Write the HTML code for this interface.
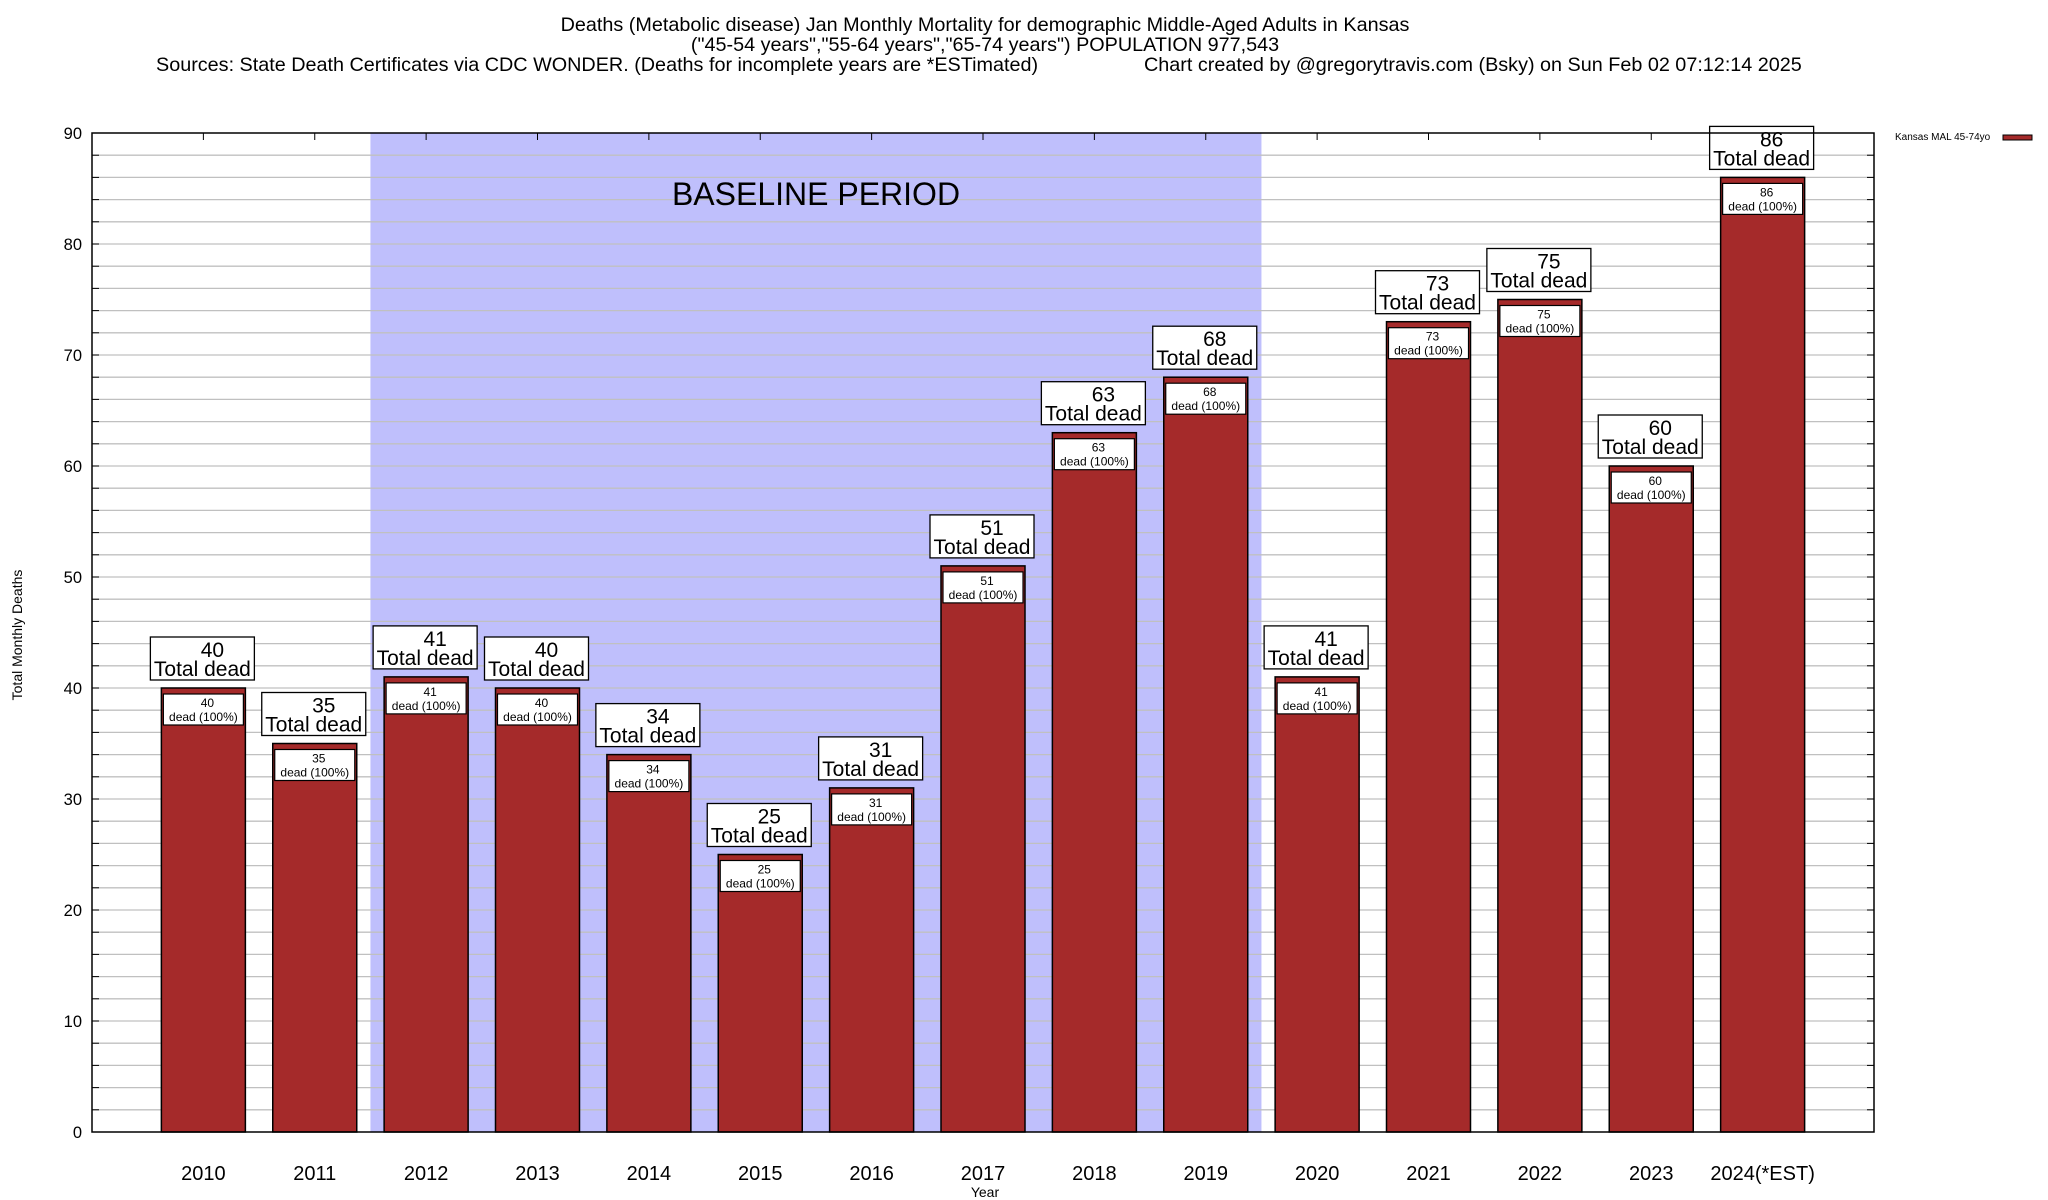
<!DOCTYPE html>
<html><head><meta charset="utf-8"><style>
html,body{margin:0;padding:0;background:#fff}
svg{display:block;font-family:"Liberation Sans",sans-serif}
</style></head><body>
<svg id="chart" width="2048" height="1200" viewBox="0 0 2048 1200" xmlns="http://www.w3.org/2000/svg">
<g font-size="19.8" fill="#000">
<text x="985" y="31" text-anchor="middle">Deaths (Metabolic disease) Jan Monthly Mortality for demographic Middle-Aged Adults in Kansas</text>
<text x="985" y="51" text-anchor="middle">("45-54 years","55-64 years","65-74 years") POPULATION 977,543</text>
<text x="156" y="71">Sources: State Death Certificates via CDC WONDER. (Deaths for incomplete years are *ESTimated)</text>
<text x="1144" y="71">Chart created by @gregorytravis.com (Bsky) on Sun Feb 02 07:12:14 2025</text>
</g>
<g id="plot"></g>
<text transform="translate(22,635) rotate(-90)" text-anchor="middle" font-size="14">Total Monthly Deaths</text>
<text x="985" y="1197" text-anchor="middle" font-size="14">Year</text>
<g>
<text x="1895" y="140" font-size="10">Kansas MAL 45-74yo</text>
<rect x="2003" y="135" width="29" height="5" fill="#a52a2a" stroke="#000" stroke-width="1"/>
</g>
</svg>
<script>
const categories = ["2010","2011","2012","2013","2014","2015","2016","2017","2018","2019","2020","2021","2022","2023","2024(*EST)"];
const values = [40,35,41,40,34,25,31,51,63,68,41,73,75,60,86];
const yTicks = [0,10,20,30,40,50,60,70,80,90];
const baselineStart = 1.5, baselineEnd = 9.5;

const NS = "http://www.w3.org/2000/svg";
const L = 92, R = 1874, T = 133, B = 1132;
const slot = (R - L) / 16;
const yMax = 90;
const xPos = i => L + (i + 1) * slot;
const yPos = v => B - v / yMax * (B - T);
const g = document.getElementById('plot');
function mk(tag, attrs, text) {
  const e = document.createElementNS(NS, tag);
  for (const k in attrs) e.setAttribute(k, attrs[k]);
  if (text !== undefined) e.textContent = text;
  g.appendChild(e);
  return e;
}
let sh = mk('rect', {x: xPos(baselineStart), y: T, width: xPos(baselineEnd) - xPos(baselineStart), height: B - T, fill: '#bfbffc'});


for (let v = 2; v < yMax; v += 2) {
  const ln = mk('line', {x1: L, x2: R, y1: yPos(v), y2: yPos(v), stroke: '#c0c0c0', 'stroke-width': 1.3});
  
  
  mk('line', {x1: L, x2: L + 7, y1: yPos(v), y2: yPos(v), stroke: '#000', 'stroke-width': 1});
  mk('line', {x1: R - 7, x2: R, y1: yPos(v), y2: yPos(v), stroke: '#000', 'stroke-width': 1});
}
let bt = mk('text', {x: 816, y: 205, 'text-anchor': 'middle', 'font-size': 32}, 'BASELINE PERIOD');


yTicks.forEach(v => {
  const t = mk('text', {x: 82, y: yPos(v) + 6, 'text-anchor': 'end', 'font-size': 16.5}, String(v));
  
  
});
const bw = 84;
categories.forEach((c, i) => {
  const cx = xPos(i), v = values[i], y = yPos(v);
  const bar = mk('rect', {x: cx - bw / 2, y: y, width: bw, height: B - y, fill: '#a52a2a', stroke: '#000', 'stroke-width': 1.5});
  
  
  const ib = mk('rect', {x: cx - bw / 2 + 2, y: y + 6, width: bw - 4, height: 31, fill: '#fff', stroke: '#000', 'stroke-width': 1.2});
  
  
  mk('text', {x: cx + 4, y: y + 19, 'text-anchor': 'middle', 'font-size': 12}, String(v));
  mk('text', {x: cx, y: y + 33, 'text-anchor': 'middle', 'font-size': 12}, 'dead (100%)');
  const ob = mk('rect', {x: cx - 53, y: y - 51, width: 104, height: 43, fill: '#fff', stroke: '#000', 'stroke-width': 1.3});
  
  
  mk('text', {x: cx + 9, y: y - 31, 'text-anchor': 'middle', 'font-size': 21}, String(v));
  mk('text', {x: cx - 1, y: y - 12, 'text-anchor': 'middle', 'font-size': 21}, 'Total dead');
  const xl = mk('text', {x: cx, y: 1180, 'text-anchor': 'middle', 'font-size': 20}, c);
  
  
  mk('line', {x1: cx, x2: cx, y1: T, y2: T + 7, stroke: '#000', 'stroke-width': 1});
});
const fr = mk('rect', {x: L, y: T, width: R - L, height: B - T, fill: 'none', stroke: '#000', 'stroke-width': 1.5});


</script>
</body></html>
